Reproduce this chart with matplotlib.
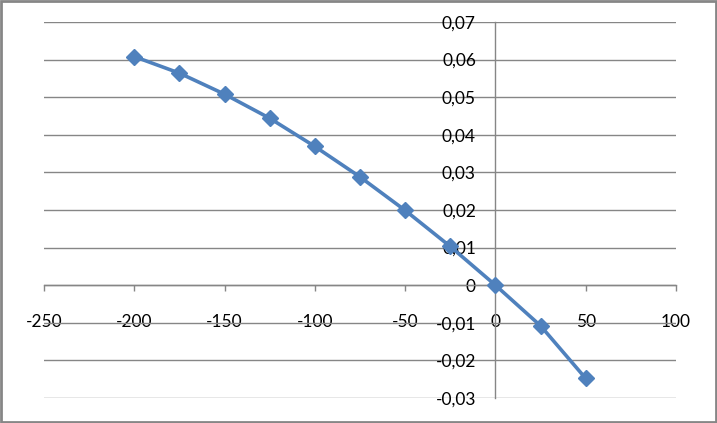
import matplotlib.pyplot as plt
from matplotlib.ticker import FuncFormatter, MultipleLocator

# data
x_vals = [-200, -175, -150, -125, -100, -75, -50, -25, 0, 25, 50]
y_vals = [0.0608, 0.0564, 0.0508, 0.0444, 0.0369, 0.0288, 0.0199, 0.0103, 0.0, -0.0108, -0.0248]

line_color = '#4F81BD'
grid_color = '#868686'

plt.rcParams['font.family'] = ['Lato', 'DejaVu Sans']

fig = plt.figure(figsize=(7.17, 4.23), dpi=100)
ax = fig.add_axes([44 / 717, 25 / 423, 632 / 717, 376 / 423])

ax.plot(x_vals, y_vals, '-D', color=line_color, linewidth=2.6,
        markersize=8, markerfacecolor=line_color, markeredgecolor=line_color,
        zorder=5, clip_on=False)

ax.set_xlim(-250, 100)
ax.set_ylim(-0.03, 0.07)
ax.xaxis.set_major_locator(MultipleLocator(50))
ax.yaxis.set_major_locator(MultipleLocator(0.01))

comma = FuncFormatter(lambda v, p: ('%g' % round(v, 4)).replace('.', ','))
ax.xaxis.set_major_formatter(FuncFormatter(lambda v, p: '%d' % round(v)))
ax.yaxis.set_major_formatter(comma)

# axes cross at zero like in Excel
ax.spines['left'].set_position(('data', 0))
ax.spines['bottom'].set_position(('data', 0))
ax.spines['top'].set_visible(False)
ax.spines['right'].set_visible(False)
for s in ['left', 'bottom']:
    ax.spines[s].set_color(grid_color)
    ax.spines[s].set_linewidth(1)

ax.yaxis.grid(True, color=grid_color, linewidth=1)
ax.set_axisbelow(True)

ax.tick_params(axis='x', direction='out', length=4.5, width=1, color=grid_color,
               pad=16, labelsize=12.5, labelcolor='black')
ax.tick_params(axis='y', length=0, pad=14, labelsize=12.5, labelcolor='black')

# gray frame around the whole chart
fig.patches.append(plt.Rectangle((0.002, 0.003), 0.996, 0.994, transform=fig.transFigure,
                                 fill=False, edgecolor='#868686', linewidth=2))

fig.savefig('out.png', dpi=100)
